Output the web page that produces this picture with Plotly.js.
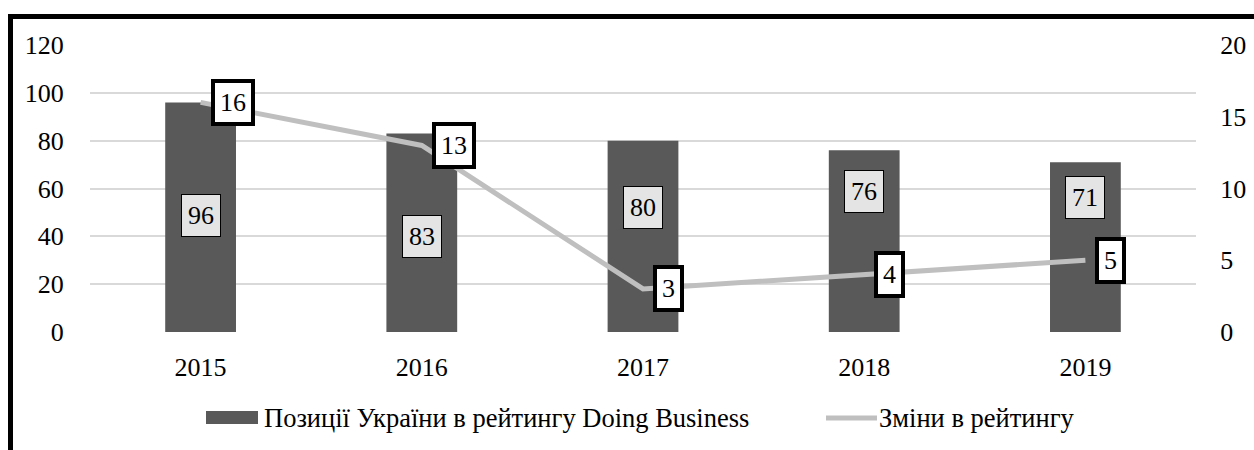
<!DOCTYPE html>
<html>
<head>
<meta charset="utf-8">
<script src="https://cdn.plot.ly/plotly-3.0.1.min.js"></script>
<style>
  html, body { margin: 0; padding: 0; background: #fff; }
  #wrap { position: relative; width: 1254px; height: 450px; overflow: hidden; }
  #chart { width: 1254px; height: 450px; }
  #frame { position: absolute; left: 8px; top: 14px; width: 1300px; height: 500px;
           border-left: 5px solid #000; border-top: 5px solid #000; pointer-events: none; }
</style>
</head>
<body>
<div id="wrap">
  <div id="chart"></div>
  <div id="frame"></div>
</div>
<script>
// ---- data ----
const years = ['2015', '2016', '2017', '2018', '2019'];
const positions = [96, 83, 80, 76, 71];      // Позиції України в рейтингу Doing Business
const changes = [16, 13, 3, 4, 5];            // Зміни в рейтингу
const barName = 'Позиції України в рейтингу Doing Business';
const lineName = 'Зміни в рейтингу';
const leftTicks = [0, 20, 40, 60, 80, 100, 120];
const rightTicks = [0, 5, 10, 15, 20];

// label placement (layout only, vertical shift of bar labels in px from bar centre)
const barLabelShift = [2, -4, 29, 50, 50];

const FONT = 'Liberation Serif';
const FS = 26;
const barColor = '#595959';
const lineColor = '#bfbfbf';

const traces = [
  {
    type: 'bar', x: years, y: positions, name: barName,
    marker: { color: barColor }, width: 0.32, yaxis: 'y', showlegend: false,
    hoverinfo: 'skip'
  },
  {
    type: 'scatter', mode: 'lines', x: years, y: changes, name: lineName,
    line: { color: lineColor, width: 5 }, yaxis: 'y2', showlegend: false,
    hoverinfo: 'skip'
  }
];

const annotations = [];
years.forEach((yr, i) => {
  annotations.push({
    x: i, y: positions[i] / 2, xref: 'x', yref: 'y',
    text: String(positions[i]), showarrow: false,
    yshift: barLabelShift[i],
    font: { family: FONT, size: FS, color: '#000' },
    bgcolor: '#e4e4e4', bordercolor: '#000', borderwidth: 1, borderpad: 6
  });
  annotations.push({
    x: i, y: changes[i], xref: 'x', yref: 'y2',
    text: String(changes[i]), showarrow: false,
    xanchor: 'left', xshift: 10,
    font: { family: FONT, size: FS, color: '#000' },
    bgcolor: '#ffffff', bordercolor: '#000', borderwidth: 4, borderpad: 5
  });
});

// custom legend
const plotL = 90, plotR = 1196, plotT = 45, plotB = 332;
const px = v => (v - plotL) / (plotR - plotL);
const py = v => (plotB - v) / (plotB - plotT);
annotations.push({
  x: px(262), y: py(418), xref: 'paper', yref: 'paper', xanchor: 'left', yanchor: 'middle',
  text: barName, showarrow: false, font: { family: FONT, size: 26.5, color: '#000' }
});
annotations.push({
  x: px(877), y: py(418), xref: 'paper', yref: 'paper', xanchor: 'left', yanchor: 'middle',
  text: lineName, showarrow: false, font: { family: FONT, size: 26.5, color: '#000' }
});
const shapes = [
  { type: 'rect', xref: 'paper', yref: 'paper', x0: px(206), x1: px(258), y0: py(411), y1: py(424),
    fillcolor: barColor, line: { width: 0 } },
  { type: 'line', xref: 'paper', yref: 'paper', x0: px(826), x1: px(877), y0: py(418), y1: py(418),
    line: { color: lineColor, width: 5 } }
];

const layout = {
  width: 1254, height: 450,
  margin: { l: plotL, r: 1254 - plotR, t: plotT, b: 450 - plotB },
  paper_bgcolor: '#fff', plot_bgcolor: '#fff',
  font: { family: FONT, size: FS, color: '#000' },
  showlegend: false,
  xaxis: {
    type: 'category', range: [-0.5, 4.5], autorange: false,
    showgrid: false, zeroline: false, showline: false,
    ticks: 'outside', ticklen: 12, tickcolor: 'rgba(0,0,0,0)',
    tickfont: { family: FONT, size: FS, color: '#000' }
  },
  yaxis: {
    range: [0, 120], tickvals: leftTicks, showgrid: true, gridcolor: '#d9d9d9', gridwidth: 2,
    zeroline: false, showline: false,
    ticks: 'outside', ticklen: 20, tickcolor: 'rgba(0,0,0,0)',
    tickfont: { family: FONT, size: FS, color: '#000' }
  },
  yaxis2: {
    range: [0, 20], tickvals: rightTicks, overlaying: 'y', side: 'right', showgrid: false,
    zeroline: false, showline: false,
    ticks: 'outside', ticklen: 18, tickcolor: 'rgba(0,0,0,0)',
    tickfont: { family: FONT, size: FS, color: '#000' }
  },
  annotations: annotations,
  shapes: shapes
};

Plotly.newPlot('chart', traces, layout, { displayModeBar: false, staticPlot: true });
</script>
</body>
</html>
